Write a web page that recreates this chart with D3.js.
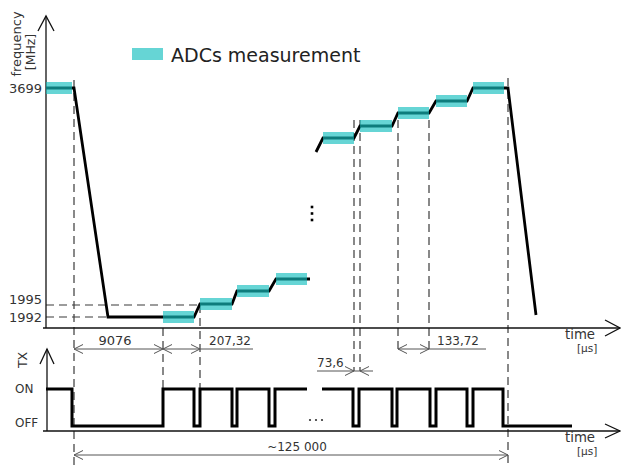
<!DOCTYPE html>
<html><head><meta charset="utf-8">
<script src="https://cdn.jsdelivr.net/npm/d3@7"></script>
<style>
html,body{margin:0;padding:0;background:#fff;}
svg{display:block;font-family:"DejaVu Sans",sans-serif;}
</style></head>
<body>
<svg id="c" width="621" height="465"></svg>
<script>
// ---- data (schematic units: time t along x, frequency level along y) ----
const freqTickLabels = ["3699", "1995", "1992"];
const freqTickLevels = [240, 24, 11];
const freqLabelLevels = [240, 29, 11];
const sweep1 = [[0,240],[28,240],[62,11],[148,11],[154,24],[186,24],[191,37],[223,37],[230,49],[264,49]];
const sweep2 = [[270,176],[277,190],[308,190],[314,202],[346,202],[352,215],[383,215],[390,227],[421,227],[427,240],[462,240],[490,13]];
const adcStart = [0,117,154,191,230,277,314,352,390,427];
const adcEnd   = [26,148,186,223,261,308,346,383,421,458];
const adcLevel = [240,11,24,37,49,190,202,215,227,240];
const txSeg1 = [[0,1],[26,0],[117,1],[148,0],[154,1],[186,0],[191,1],[223,0],[229,1],[261,1]];
const txSeg2 = [[276,1],[307,0],[313,1],[346,0],[351,1],[384,0],[390,1],[421,0],[427,1],[457,0],[526,0]];
const txStateLabels = ["OFF", "ON"];
const dimLabels = ["9076", "207,32", "133,72", "73,6", "~125 000"];
const dimFrom   = [28, 117, 352, 271, 28];
const dimTo     = [117, 207, 440, 327, 462];
const dimTipsL  = [28, 117, 352, null, 28];   // "<" arrowheads
const dimTipsR  = [117, 154, 383, 308, 462];  // ">" arrowheads
const dimTipsLextra = [null, null, null, 314, null];
const dimRow    = ["r1","r1","r1","r2","r3"];
const dimLabelT = [69, 163, 391, 271, 251];
const dimLabelAnchor = ["middle","start","start","start","middle"];
const guideT    = [28, 117, 154, 308, 314, 352, 383, 462];
const guideTop  = [248, 0, 23, 208, 208, 208, 208, 250];
const guideEnd  = ["bottom","on","on","r2","r2","r1","r1","bottom"];
const hGuideLevel = [23, 11];
const hGuideTo    = [154, 62];

// ---- scales ----
const W = 621, H = 465;
const x = d3.scaleLinear().domain([0, 574]).range([46, 620]);
const yF = d3.scaleLinear().domain([0, 312]).range([328, 16]);
const yT = d3.scaleLinear().domain([0, 1]).range([426, 389]);
const rows = {r1: 349, r2: 371, r3: 455, bottom: 465, on: 388};

const svg = d3.select("#c");
const txtCol = "#333";

// ---- guides (dashed) ----
const dash = svg.append("g").attr("stroke", "#3a3a3a").attr("stroke-width", 1.2)
  .attr("stroke-dasharray", "8,5").attr("fill", "none");
guideT.forEach((t, i) => {
  dash.append("line").attr("x1", x(t)).attr("x2", x(t))
    .attr("y1", yF(guideTop[i])).attr("y2", rows[guideEnd[i]]);
});
hGuideLevel.forEach((lv, i) => {
  dash.append("line").attr("x1", x(0)).attr("x2", x(hGuideTo[i]))
    .attr("y1", yF(lv)).attr("y2", yF(lv));
});

// ---- axes ----
const ax = svg.append("g").attr("stroke", "#111").attr("stroke-width", 1.3).attr("fill", "none");
// top plot
ax.append("line").attr("x1", x(0)).attr("x2", x(0)).attr("y1", yF(0)).attr("y2", yF(312));
ax.append("path").attr("d", `M${x(0)-8},${yF(312)+15}L${x(0)},${yF(312)}L${x(0)+8},${yF(312)+15}`);
ax.append("line").attr("x1", x(0)-3).attr("x2", x(574)).attr("y1", yF(0)).attr("y2", yF(0));
ax.append("path").attr("d", `M${x(574)-15},${yF(0)-8}L${x(574)},${yF(0)}L${x(574)-15},${yF(0)+8}`);
// tx plot
const txAxisY = yT(0) + 5, txTop = 349;
ax.append("line").attr("x1", x(1)).attr("x2", x(1)).attr("y1", txAxisY).attr("y2", txTop);
ax.append("path").attr("d", `M${x(1)-7},${txTop+15}L${x(1)},${txTop}L${x(1)+7},${txTop+15}`);
ax.append("line").attr("x1", x(0)-3).attr("x2", x(574)).attr("y1", txAxisY).attr("y2", txAxisY);
ax.append("path").attr("d", `M${x(574)-15},${txAxisY-7}L${x(574)},${txAxisY}L${x(574)-15},${txAxisY+7}`);

// ---- frequency sweep ----
const line = d3.line().x(d => x(d[0])).y(d => yF(d[1]));
[sweep1, sweep2].forEach(s => {
  svg.append("path").attr("d", line(s)).attr("fill", "none")
    .attr("stroke", "#000").attr("stroke-width", 2.8).attr("stroke-linejoin", "miter");
});
// ADC windows
const bandCol = "rgb(20,190,190)";
adcStart.forEach((s, i) => {
  svg.append("rect").attr("x", x(s)).attr("width", x(adcEnd[i]) - x(s))
    .attr("y", yF(adcLevel[i]) - 6).attr("height", 12)
    .attr("fill", bandCol).attr("fill-opacity", 0.65);
});

// ---- TX signal ----
const txLine = d3.line().curve(d3.curveStepAfter).x(d => x(d[0])).y(d => yT(d[1]));
[txSeg1, txSeg2].forEach(s => {
  svg.append("path").attr("d", txLine(s)).attr("fill", "none")
    .attr("stroke", "#000").attr("stroke-width", 3);
});

// ---- dimension annotations ----
const dg = svg.append("g").attr("stroke", "#555").attr("stroke-width", 1).attr("fill", "none");
function head(px, py, dir) {
  dg.append("path").attr("d", `M${px - dir*9},${py-4.5}L${px},${py}L${px - dir*9},${py+4.5}`);
}
dimLabels.forEach((lab, i) => {
  const yy = rows[dimRow[i]];
  dg.append("line").attr("x1", x(dimFrom[i])).attr("x2", x(dimTo[i])).attr("y1", yy).attr("y2", yy);
  if (dimTipsL[i] != null) head(x(dimTipsL[i]), yy, -1);
  if (dimTipsR[i] != null) head(x(dimTipsR[i]), yy, 1);
  if (dimTipsLextra[i] != null) head(x(dimTipsLextra[i]), yy, -1);
  svg.append("text").attr("x", x(dimLabelT[i])).attr("y", yy - 4)
    .attr("text-anchor", dimLabelAnchor[i])
    .attr("font-size", i === 0 ? 13 : 12).attr("fill", txtCol).text(lab);
});

// ---- texts ----
freqTickLabels.forEach((lab, i) => {
  svg.append("text").attr("x", x(0) - 4).attr("y", yF(freqLabelLevels[i]) + 4.5)
    .attr("text-anchor", "end").attr("font-size", 13).attr("fill", txtCol).text(lab);
});
svg.append("text").attr("transform", "translate(21,44) rotate(-90)")
  .attr("text-anchor", "middle").attr("font-size", 13).attr("fill", txtCol).text("frequency");
svg.append("text").attr("transform", "translate(35,52) rotate(-90)")
  .attr("text-anchor", "middle").attr("font-size", 12.5).attr("fill", txtCol).text("[MHz]");
svg.append("text").attr("transform", "translate(27,360) rotate(-90)")
  .attr("text-anchor", "middle").attr("font-size", 12.5).attr("fill", txtCol).text("TX");
txStateLabels.forEach((lab, i) => {
  svg.append("text").attr("x", 15).attr("y", yT(i) + (i ? 4 : 1))
    .attr("font-size", 12).attr("fill", txtCol).text(lab);
});
[[yF(0) + 11, "time"], [txAxisY + 11, "time"]].forEach(([yy, lab]) => {
  svg.append("text").attr("x", 565).attr("y", yy).attr("font-size", 13.3).attr("fill", txtCol).text(lab);
  svg.append("text").attr("x", 577).attr("y", yy + 13).attr("font-size", 10.5).attr("fill", txtCol).text("[µs]");
});

// legend
svg.append("rect").attr("x", 132).attr("y", 48).attr("width", 31).attr("height", 12)
  .attr("fill", bandCol).attr("fill-opacity", 0.65);
svg.append("text").attr("x", 171).attr("y", 61.5).attr("font-size", 19).attr("fill", "#222")
  .text("ADCs measurement");

// ellipses (break markers)
[207, 213.5, 220].forEach(yy => {
  svg.append("rect").attr("x", x(266) - 1.3).attr("y", yy - 1.3).attr("width", 2.6).attr("height", 2.6).attr("fill", "#000");
});
[310, 316, 322].forEach(xx => {
  svg.append("circle").attr("cx", xx).attr("cy", 420).attr("r", 1.1).attr("fill", "#333");
});
</script>
</body></html>
